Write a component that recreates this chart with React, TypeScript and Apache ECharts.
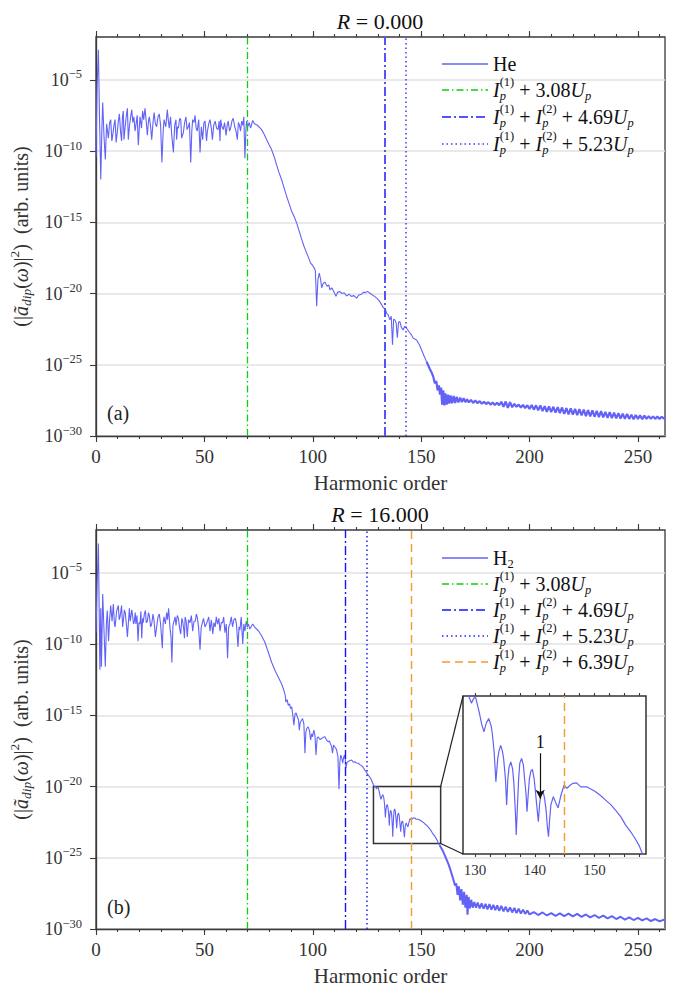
import React, { useEffect, useRef } from "react";
import * as echarts from "echarts";

type Pt = [number, number];

// ---------- axis constants ----------
const X_MAX = 262.5;
const X_MAJOR = [0, 50, 100, 150, 200, 250];
const X_MINOR = [0, 10, 20, 30, 40, 50, 60, 70, 80, 90, 100, 110, 120, 130, 140, 150, 160, 170, 180, 190, 200, 210, 220, 230, 240, 250, 260];
const Y_TICKS = [-30, -25, -20, -15, -10, -5];
const INSET_X: [number, number] = [128, 158.6];
const INSET_Y: [number, number] = [-24, -20];
const INSET_LABELS = [130, 140, 150];
const INSET_TICKS = [130, 132.5, 135, 137.5, 140, 142.5, 145, 147.5, 150, 152.5, 155, 157.5];
const ZOOM_BOX: [Pt, Pt] = [[128, -20], [159, -24]];
const TOP_CUTOFFS = [70, 133.3, 142.8];
const BOTTOM_CUTOFFS = [70, 115, 124.8, 145.3];
const COEFFS = ["3.08", "4.69", "5.23", "6.39"];
const ARROW: [Pt, Pt] = [[140.9, -21.45], [140.9, -22.6]];
const TITLES = ["0.000", "16.000"];

// ---------- data (log10 of spectrum) ----------
const TOP_PLATEAU: Pt[] = [
  [0, -10.4], [0.5, -5.5], [1.1, -2.9], [1.6, -7.5], [2.2, -12.0], [2.7, -8.5], [3.1, -6.6], [3.7, -9.0], [4.3, -10.6], [4.9, -8.1],
  [5.7, -9.1], [6.3, -8.0], [6.8, -7.8], [7.3, -9.3], [7.7, -8.9], [8.3, -8.2], [8.8, -7.8], [9.3, -9.4], [9.8, -8.7], [10.3, -7.9],
  [10.8, -7.4], [11.3, -8.6], [11.8, -9.3], [12.2, -7.6], [12.6, -7.2], [12.9, -9.2], [13.4, -8.4], [14.0, -7.5], [14.5, -7.0], [14.9, -9.2],
  [15.4, -8.3], [16.0, -7.6], [16.5, -7.1], [17.0, -8.0], [17.5, -7.6], [18.0, -8.6], [18.4, -8.2], [19.0, -7.5], [19.5, -9.6], [20.3, -7.6],
  [21.0, -8.4], [21.5, -7.2], [22.0, -7.8], [22.6, -7.0], [23.2, -8.0], [23.7, -8.9], [24.2, -7.9], [24.6, -7.6], [25.2, -8.3], [25.7, -9.2],
  [26.3, -8.0], [26.8, -7.3], [27.4, -8.1], [28.0, -8.3], [28.6, -7.6], [29.2, -7.4], [29.8, -8.2], [30.4, -10.8], [31.0, -8.6], [31.4, -7.8],
  [32.2, -8.3], [32.9, -7.1], [33.4, -7.9], [33.8, -8.4], [34.4, -7.6], [34.9, -8.8], [35.7, -10.1], [36.3, -8.2], [36.9, -7.8], [37.2, -9.2],
  [37.6, -8.3], [38.0, -8.4], [38.6, -7.7], [39.1, -7.8], [39.5, -9.1], [40.3, -8.7], [40.9, -8.0], [41.5, -7.6], [42.0, -8.5], [42.6, -8.3],
  [43.1, -8.0], [43.7, -10.8], [44.2, -8.6], [44.6, -7.8], [45.2, -8.0], [45.7, -7.5], [46.2, -8.4], [46.7, -8.6], [47.4, -7.8], [48.0, -10.1],
  [48.6, -8.3], [49.2, -9.2], [49.8, -8.0], [50.3, -7.9], [51.0, -9.3], [51.4, -8.6], [52.0, -8.1], [52.6, -7.8], [53.2, -8.4], [53.7, -9.2],
  [54.3, -8.2], [55.0, -7.9], [55.6, -8.4], [56.3, -8.5], [56.8, -7.9], [57.2, -9.3], [57.5, -7.8], [58.1, -8.3], [58.7, -8.5], [59.3, -8.0],
  [60.0, -8.9], [60.5, -8.2], [61.0, -7.9], [61.6, -8.6], [62.1, -8.4], [62.7, -7.9], [63.3, -7.7], [64.0, -8.3], [64.6, -8.6], [65.2, -9.2],
  [65.7, -8.0], [66.2, -8.2], [66.7, -8.6], [67.2, -7.9], [67.7, -8.2], [68.2, -7.6], [68.7, -10.5], [69.2, -8.4], [69.5, -7.9], [70.0, -8.3],
];
const TOP_DROP: Pt[] = [
  [70.7, -8.0], [71.3, -8.4], [72.3, -7.86], [73.2, -8.1], [74.1, -8.16], [75.2, -8.3], [76.4, -8.5], [77.5, -8.8], [78.7, -9.2], [79.8, -9.55],
  [81.0, -9.9], [82.2, -10.4], [83.3, -10.97], [84.4, -11.5], [85.6, -12.0], [86.8, -12.6], [88.0, -13.2], [89.2, -13.75], [90.3, -14.25], [91.4, -14.6],
  [92.6, -15.06], [93.7, -15.6], [94.9, -16.2], [96.0, -16.7], [97.2, -17.17], [98.1, -17.5], [99.0, -17.87], [99.8, -18.0], [100.6, -18.2], [101.2, -18.4],
  [101.8, -20.9], [102.4, -19.0], [103.0, -18.57], [103.6, -19.0], [104.1, -19.6], [104.8, -19.3], [105.6, -19.2], [106.6, -19.5], [107.4, -19.4], [107.9, -19.75],
  [108.8, -19.6], [109.8, -19.9], [110.7, -20.2], [111.5, -19.9], [112.5, -19.87], [113.5, -20.0], [114.5, -19.95], [115.6, -20.17], [116.7, -20.05], [117.8, -20.2],
  [119.0, -20.15], [120.2, -20.33], [121.3, -20.1], [122.5, -20.05], [123.4, -19.9], [124.1, -19.94], [125.2, -19.85], [126.4, -19.98], [127.5, -20.1], [128.5, -20.2],
  [129.5, -20.33], [130.6, -20.5], [131.8, -20.8], [132.6, -21.0], [133.5, -21.1], [134.1, -21.4], [134.8, -21.5], [135.6, -21.85], [136.2, -21.6], [136.8, -23.6],
  [137.3, -21.8], [137.9, -21.85], [138.5, -22.1], [139.0, -23.1], [139.6, -22.0], [140.2, -21.97], [140.9, -22.4], [141.7, -22.56], [142.4, -22.3], [143.3, -22.44],
  [144.5, -22.7], [145.5, -22.9], [146.4, -23.14], [147.9, -23.26], [149.2, -23.6], [150.2, -23.96], [151.4, -24.4], [152.5, -24.78],
];
const TOP_TAIL: Pt[] = [
  [152.5, -24.78], [154.0, -25.3], [155.0, -25.6], [155.6, -25.84], [156.3, -26.3], [157.0, -26.15], [157.6, -26.8], [158.2, -26.45], [158.7, -27.1], [159.2, -26.6], [159.7, -27.8],
  [160.2, -26.8], [160.7, -27.85], [161.2, -27.0], [161.8, -27.8], [162.4, -27.1], [163.0, -27.72], [163.6, -27.15], [164.3, -27.7], [165.0, -27.2], [165.7, -27.68],
  [166.4, -27.25], [167.2, -27.65], [168.0, -27.3], [168.8, -27.62], [169.6, -27.35], [170.4, -27.62], [171.2, -27.42], [172.0, -27.64], [173.0, -27.47], [174.0, -27.68],
  [175.0, -27.5], [176.0, -27.7], [177.0, -27.55], [178.0, -27.74], [179.0, -27.6], [180.0, -27.76], [181.0, -27.62], [182.0, -27.8], [183.0, -27.65], [184.0, -27.82],
  [185.0, -27.67], [186.0, -27.84], [187.0, -27.6], [188.0, -27.95], [189.0, -27.58], [190.0, -28.02], [191.0, -27.62], [192.0, -27.98], [193.0, -27.74], [194.0, -27.95],
  [195.0, -27.8], [196.0, -28.0], [197.0, -27.82], [198.0, -28.05], [199.0, -27.84], [200.0, -28.1], [201.0, -27.82], [202.0, -28.15], [203.0, -27.85], [204.0, -28.2],
  [205.0, -27.86], [206.0, -28.25], [207.0, -27.9], [208.0, -28.3], [209.0, -27.92], [210.0, -28.32], [211.0, -27.95], [212.0, -28.36], [213.0, -27.98], [214.0, -28.4],
  [215.0, -28.0], [216.0, -28.45], [217.0, -28.04], [218.0, -28.48], [219.0, -28.06], [220.0, -28.5], [221.0, -28.1], [222.0, -28.54], [223.0, -28.12], [224.0, -28.56],
  [225.0, -28.15], [226.0, -28.6], [227.0, -28.18], [228.0, -28.62], [229.0, -28.2], [230.0, -28.65], [231.0, -28.24], [232.0, -28.68], [233.0, -28.26], [234.0, -28.7],
  [235.0, -28.3], [236.0, -28.72], [237.0, -28.32], [238.0, -28.74], [239.0, -28.36], [240.0, -28.76], [241.0, -28.4], [242.0, -28.78], [243.0, -28.44], [244.0, -28.8],
  [245.0, -28.46], [246.0, -28.8], [247.0, -28.5], [248.0, -28.82], [249.0, -28.52], [250.0, -28.8], [251.0, -28.55], [252.0, -28.82], [253.0, -28.57], [254.0, -28.8],
  [255.0, -28.6], [256.0, -28.8], [257.0, -28.62], [258.0, -28.8], [259.0, -28.63], [260.0, -28.8], [261.0, -28.65], [262.0, -28.78], [262.5, -28.7],
];

const BOTTOM_PLATEAU: Pt[] = [
  [0, -9.2], [0.5, -6.0], [1.1, -2.95], [1.5, -8.0], [1.8, -11.8], [2.2, -7.5], [2.5, -11.6], [3.1, -6.5], [3.7, -9.1], [4.3, -11.6],
  [4.8, -8.6], [5.2, -7.65], [5.8, -9.8], [6.3, -8.2], [6.8, -7.3], [7.4, -8.4], [8.0, -7.2], [8.5, -8.6], [8.8, -8.8], [9.5, -7.7],
  [10.3, -7.3], [10.7, -8.3], [11.1, -8.1], [11.8, -7.3], [12.3, -8.8], [12.6, -8.4], [13.1, -7.6], [13.5, -7.8], [14.0, -8.6], [14.5, -9.5],
  [14.9, -8.6], [15.4, -7.5], [15.8, -8.4], [16.1, -8.1], [16.5, -7.6], [16.9, -8.0], [17.3, -8.6], [17.7, -8.4], [18.1, -7.8], [18.4, -8.6],
  [18.9, -8.0], [19.4, -9.8], [19.8, -8.5], [20.3, -8.6], [20.7, -7.7], [21.1, -9.6], [21.5, -8.2], [21.8, -8.5], [22.3, -7.9], [22.8, -7.65],
  [23.2, -8.5], [23.7, -8.4], [24.2, -7.8], [24.6, -8.0], [25.2, -8.8], [25.7, -8.6], [26.3, -7.9], [26.8, -8.4], [27.4, -9.5], [28.0, -8.8],
  [28.6, -8.1], [29.2, -7.9], [29.8, -8.6], [30.6, -10.3], [31.0, -8.5], [31.4, -8.1], [32.0, -8.6], [32.6, -7.8], [33.0, -8.3], [33.5, -7.5],
  [34.1, -8.8], [34.6, -9.5], [35.0, -11.3], [35.5, -8.7], [36.0, -8.4], [36.5, -8.1], [36.9, -8.7], [37.5, -8.0], [38.0, -8.2], [38.6, -8.9],
  [39.1, -9.3], [39.6, -8.2], [40.0, -8.4], [40.5, -9.0], [40.8, -9.6], [41.1, -8.1], [41.6, -8.4], [42.1, -9.5], [42.7, -8.3], [43.4, -8.5],
  [44.0, -8.0], [44.6, -9.1], [45.2, -8.4], [45.8, -8.4], [46.3, -7.9], [46.7, -8.1], [47.3, -8.8], [48.0, -10.4], [48.5, -8.9], [48.9, -8.6],
  [49.6, -8.2], [50.3, -8.8], [50.9, -8.6], [51.4, -8.4], [52.0, -8.1], [52.6, -9.1], [53.2, -8.3], [53.9, -9.3], [54.4, -8.5], [55.0, -8.8],
  [55.5, -8.1], [56.1, -8.6], [56.7, -8.2], [57.2, -9.1], [57.8, -8.5], [58.4, -8.5], [58.9, -8.1], [59.5, -9.2], [60.1, -8.6], [60.7, -11.0],
  [61.2, -8.8], [61.8, -8.6], [62.4, -8.1], [63.0, -8.8], [63.6, -8.3], [64.3, -8.2], [64.8, -8.6], [65.5, -10.2], [66.0, -8.8], [66.4, -9.0],
  [67.0, -8.1], [67.7, -10.0], [68.2, -8.6], [68.7, -9.1], [69.3, -8.4], [69.8, -8.8], [70.3, -8.6],
];
const BOTTOM_DROP: Pt[] = [
  [71.0, -8.95], [72.3, -8.6], [73.3, -8.84], [74.9, -9.07], [76.4, -9.42], [77.9, -9.88], [79.5, -10.58], [81.0, -11.28], [82.6, -11.86], [84.1, -12.33],
  [85.6, -12.79], [86.7, -13.26], [87.3, -13.6], [87.6, -14.07], [88.2, -13.9], [88.7, -14.3], [89.3, -14.2], [89.8, -14.53], [90.3, -14.4], [90.7, -14.88],
  [91.3, -15.7], [91.8, -14.9], [92.3, -14.84], [92.9, -15.12], [93.4, -15.3], [93.8, -16.05], [94.2, -15.5], [94.6, -15.4], [95.3, -15.23], [95.9, -15.6],
  [96.4, -17.67], [96.8, -16.2], [97.2, -15.93], [97.9, -15.81], [98.5, -16.1], [99.0, -16.74], [99.5, -16.3], [99.9, -16.51], [100.5, -16.05], [101.0, -16.4],
  [101.5, -17.79], [102.0, -16.6], [102.5, -16.51], [103.3, -16.7], [104.1, -16.63], [104.9, -16.55], [105.6, -16.51], [106.4, -16.75], [107.2, -16.86], [107.7, -16.8],
  [108.2, -17.02], [108.7, -17.2], [109.1, -17.67], [109.6, -17.1], [110.1, -17.21], [110.6, -17.3], [111.0, -17.44], [111.6, -17.9], [112.1, -20.19], [112.5, -18.3],
  [112.9, -17.79], [113.4, -18.0], [113.8, -18.37], [114.2, -18.0], [114.6, -17.79], [115.0, -18.1], [115.3, -18.72], [115.8, -18.3], [116.2, -18.26], [117.0, -18.2],
  [118.0, -18.14], [118.7, -18.3], [119.4, -18.26], [120.2, -18.35], [121.0, -18.37], [122.0, -18.5], [123.0, -18.6], [123.8, -18.8], [124.5, -18.95], [125.6, -19.2],
  [126.7, -19.42], [127.5, -19.7],
];
const INSET_SEGMENT: Pt[] = [
  [128.0, -19.9], [128.5, -19.98], [129.0, -20.02], [129.4, -20.18], [129.8, -20.06], [130.1, -20.03], [130.7, -20.4], [131.1, -20.7], [131.5, -20.91], [131.9, -20.68],
  [132.3, -20.57], [132.7, -20.75], [132.9, -20.95], [133.2, -21.4], [133.5, -22.17], [133.8, -21.6], [134.0, -21.4], [134.3, -21.25], [134.6, -21.4], [134.8, -21.6],
  [135.1, -22.1], [135.3, -22.76], [135.5, -22.1], [135.7, -21.8], [136.0, -21.67], [136.3, -21.85], [136.5, -22.2], [136.75, -22.9], [136.9, -23.52], [137.1, -22.8],
  [137.3, -22.1], [137.5, -21.7], [137.8, -21.58], [138.1, -21.75], [138.3, -22.1], [138.55, -22.5], [138.7, -22.93], [138.9, -22.5], [139.1, -22.1], [139.35, -21.9],
  [139.6, -21.86], [139.9, -22.1], [140.1, -22.4], [140.35, -22.8], [140.6, -23.18], [140.8, -22.75], [141.0, -22.5], [141.4, -22.42], [141.65, -22.6], [141.9, -22.9],
  [142.1, -23.3], [142.3, -23.56], [142.5, -23.1], [142.7, -22.75], [143.1, -22.55], [143.5, -22.7], [143.9, -22.83], [144.4, -22.5], [144.9, -22.26], [145.4, -22.34],
  [145.9, -22.26], [146.4, -22.21], [147.0, -22.2], [147.7, -22.3], [148.7, -22.3], [150.1, -22.42], [151.0, -22.52], [151.8, -22.63], [152.7, -22.75], [153.5, -22.89],
  [154.4, -23.06], [155.2, -23.27], [156.1, -23.45], [156.9, -23.64], [157.5, -23.8], [158.0, -24.0], [158.5, -24.12],
];
const BOTTOM_TAIL: Pt[] = [
  [158.5, -24.12], [159.0, -24.25], [159.8, -24.45], [160.8, -24.8], [161.8, -25.15], [162.6, -25.45], [163.4, -25.8], [164.2, -26.2], [164.9, -26.55], [165.6, -26.95], [166.2, -26.8],
  [166.8, -27.6], [167.4, -27.0], [168.0, -28.0], [168.6, -27.2], [169.2, -28.3], [169.8, -27.4], [170.4, -28.5], [171.0, -27.6], [171.4, -29.0], [171.9, -27.75],
  [172.5, -28.55], [173.1, -27.95], [173.8, -28.5], [174.5, -28.1], [175.3, -28.5], [176.1, -28.15], [177.0, -28.55], [177.9, -28.2], [178.8, -28.58], [179.7, -28.24],
  [180.6, -28.62], [181.5, -28.26], [182.4, -28.64], [183.3, -28.3], [184.2, -28.68], [185.1, -28.34], [186.0, -28.72], [187.0, -28.38], [188.0, -28.76], [189.0, -28.44],
  [190.0, -28.8], [191.0, -28.48], [192.0, -28.84], [193.0, -28.52], [194.0, -28.88], [195.0, -28.58], [196.0, -28.92], [197.0, -28.64], [198.0, -28.94], [199.0, -28.7],
  [200.0, -28.98], [202.0, -28.82], [204.0, -29.02], [206.0, -28.84], [208.0, -29.05], [210.0, -28.88], [212.0, -29.08], [214.0, -28.9], [216.0, -29.1], [218.0, -28.92],
  [220.0, -29.12], [222.0, -28.94], [224.0, -29.15], [226.0, -28.98], [228.0, -29.18], [230.0, -29.02], [232.0, -29.22], [234.0, -29.06], [236.0, -29.26], [238.0, -29.1],
  [240.0, -29.3], [242.0, -29.14], [244.0, -29.34], [246.0, -29.18], [248.0, -29.37], [250.0, -29.22], [252.0, -29.4], [254.0, -29.26], [256.0, -29.44], [258.0, -29.3],
  [260.0, -29.47], [262.0, -29.34], [262.5, -29.42],
];

const TOP_MAIN: Pt[] = [...TOP_PLATEAU, ...TOP_DROP];
const BOTTOM_MAIN: Pt[] = [...BOTTOM_PLATEAU, ...BOTTOM_DROP, ...INSET_SEGMENT];

// ---------- styles ----------
const FONT = "Liberation Serif";
const FRAME = "#3a3a3a";
const TXT = "#333";
const GRID_C = "#e2e2e2";
const DATA_C = "#6262f7";
const STY = {
  green: { color: "#10cc10", width: 1.3, type: [7, 3, 1.5, 3] },
  blueTop: { color: "#5252ff", width: 2, type: [9, 3, 2, 3] },
  dotTop: { color: "#3c3cff", width: 1.5, type: [1.5, 3] },
  blueBot: { color: "#1414ff", width: 1.4, type: [9, 3, 2, 3] },
  dotBot: { color: "#2020ff", width: 1.5, type: [1.5, 3] },
  orange: { color: "#f39a2c", width: 1.4, type: [8, 5] },
};

const G_TOP = { left: 96, top: 37, width: 569, height: 399 };
const G_BOT = { left: 96, top: 530, width: 569, height: 399 };
const G_INS = { left: 463, top: 696, width: 183, height: 158 };

type Tok = { t: string; it?: boolean; pos?: "sub" | "sup"; stack?: boolean };

let _ctx: CanvasRenderingContext2D | null = null;
function fontStr(size: number, it?: boolean) {
  return `${it ? "italic " : ""}${size}px ${FONT}`;
}
function tw(t: string, size: number, it?: boolean) {
  if (!_ctx) _ctx = document.createElement("canvas").getContext("2d");
  _ctx!.font = fontStr(size, it);
  return _ctx!.measureText(t).width;
}

function mathText(toks: Tok[], x: number, y: number, base: number, script: number, align: "left" | "center", color: string) {
  const sizeOf = (k: Tok) => (k.pos ? script : base);
  let w = 0;
  let pend = 0;
  toks.forEach((k) => {
    const kw = tw(k.t, sizeOf(k), k.it);
    if (k.stack) { pend = kw; return; }
    w += Math.max(kw, pend);
    pend = 0;
  });
  let cx = align === "center" ? x - w / 2 : x;
  pend = 0;
  const els: any[] = [];
  toks.forEach((k) => {
    const size = sizeOf(k);
    const kw = tw(k.t, size, k.it);
    const dy = k.pos === "sub" ? 0.29 * base : k.pos === "sup" ? -0.38 * base : 0;
    els.push({
      type: "text", x: cx, y: y + dy, z: 20, silent: true,
      style: {
        text: k.t, fontSize: size, fontFamily: FONT, fontStyle: k.it ? "italic" : "normal",
        font: fontStr(size, k.it), fill: color,
        textAlign: "left", textVerticalAlign: "middle", align: "left", verticalAlign: "middle",
      },
    });
    if (k.stack) { pend = kw; return; }
    cx += Math.max(kw, pend);
    pend = 0;
  });
  return els;
}

const ip = (n: number): Tok[] => [{ t: "I", it: true }, { t: "p", it: true, pos: "sub", stack: true }, { t: `(${n})`, pos: "sup" }];
const up: Tok[] = [{ t: "U", it: true }, { t: "p", it: true, pos: "sub" }];
const plus: Tok = { t: " + " };
const oneIon = (c: string): Tok[] => [...ip(1), plus, { t: c }, ...up];
const twoIon = (c: string): Tok[] => [...ip(1), plus, ...ip(2), plus, { t: c }, ...up];

function lineEl(x1: number, y1: number, x2: number, y2: number, s: any) {
  return {
    type: "line", z: 20, silent: true,
    shape: { x1, y1, x2, y2 },
    style: { stroke: s.color, lineWidth: s.width, lineDash: Array.isArray(s.type) ? s.type : null },
  };
}

function legend(rows: { toks: Tok[]; s: any }[], ys: number[]) {
  const els: any[] = [];
  rows.forEach((r, i) => {
    els.push(lineEl(442, ys[i], 488, ys[i], r.s));
    els.push(...mathText(r.toks, 493, ys[i], 20, 12.5, "left", "#111"));
  });
  return els;
}

function mainX(g: number) {
  const ls = { color: FRAME, width: 1.1 };
  return [
    {
      gridIndex: g, type: "value", position: "bottom", min: 0, max: X_MAX, interval: 50,
      axisLine: { show: true, onZero: false, lineStyle: { color: FRAME, width: 1.3 } },
      axisTick: { show: true, customValues: X_MINOR, length: 3, lineStyle: ls },
      axisLabel: { show: true, customValues: X_MAJOR, margin: 11, fontSize: 19, fontFamily: FONT, color: TXT },
      splitLine: { show: false },
      name: "Harmonic order", nameLocation: "middle", nameGap: 36,
      nameTextStyle: { fontSize: 21, fontFamily: FONT, color: TXT },
    },
    {
      gridIndex: g, type: "value", position: "bottom", min: 0, max: X_MAX, interval: 50,
      axisLine: { show: false }, axisTick: { show: true, customValues: X_MAJOR, length: 6, lineStyle: ls },
      axisLabel: { show: false }, splitLine: { show: false },
    },
    {
      gridIndex: g, type: "value", position: "top", min: 0, max: X_MAX, interval: 50,
      axisLine: { show: false }, axisTick: { show: true, customValues: X_MINOR, length: 3, lineStyle: ls },
      axisLabel: { show: false }, splitLine: { show: false },
    },
    {
      gridIndex: g, type: "value", position: "top", min: 0, max: X_MAX, interval: 50,
      axisLine: { show: false }, axisTick: { show: true, customValues: X_MAJOR, length: 6, lineStyle: ls },
      axisLabel: { show: false }, splitLine: { show: false },
    },
  ];
}

const Y_NAME = "(|{i|ã}{sub|dip}({i|ω})|{sup|2})  (arb. units)";

function mainY(g: number) {
  return {
    gridIndex: g, type: "value", position: "left", min: -30, max: -2, interval: 5,
    axisLine: { show: true, onZero: false, lineStyle: { color: FRAME, width: 1.3 } },
    axisTick: { show: true, customValues: Y_TICKS, length: 6, lineStyle: { color: FRAME, width: 1.1 } },
    axisLabel: {
      show: true, customValues: Y_TICKS, margin: 14, fontFamily: FONT,
      formatter: (v: number) => `{b|10}{s|−${Math.abs(v)}}`,
      rich: {
        b: { fontSize: 18, fontFamily: FONT, color: TXT, lineHeight: 24 },
        s: { fontSize: 12.5, fontFamily: FONT, color: TXT, verticalAlign: "top" },
      },
    },
    splitLine: { show: true, lineStyle: { color: GRID_C, width: 1.5 } },
    name: Y_NAME, nameLocation: "middle", nameRotate: 90, nameGap: 60,
    nameTextStyle: {
      fontSize: 20, fontFamily: FONT, color: TXT, lineHeight: 26,
      rich: {
        i: { fontSize: 20, fontFamily: FONT, fontStyle: "italic", color: TXT, lineHeight: 26 },
        sub: { fontSize: 13.5, fontFamily: FONT, fontStyle: "italic", color: TXT, verticalAlign: "bottom" },
        sup: { fontSize: 13.5, fontFamily: FONT, color: TXT, verticalAlign: "top" },
      },
    },
  };
}

function vlines(vals: number[], styles: any[]) {
  return {
    symbol: ["none", "none"], silent: true, label: { show: false },
    data: vals.map((v, i) => ({ xAxis: v, lineStyle: styles[i] })),
  };
}

function lineSeries(xi: number, yi: number, data: Pt[], width: number, z: number, extra: any = {}) {
  return {
    type: "line", xAxisIndex: xi, yAxisIndex: yi, data, showSymbol: false, symbol: "none",
    lineStyle: { color: DATA_C, width }, clip: true, z, ...extra,
  };
}

function buildOption() {
  const insTickStyle = { color: FRAME, width: 1.1 };
  return {
    animation: false,
    backgroundColor: "#fff",
    textStyle: { fontFamily: FONT },
    grid: [
      { ...G_TOP, show: true, borderColor: FRAME, borderWidth: 1.3, outerBoundsMode: "none", containLabel: false },
      { ...G_BOT, show: true, borderColor: FRAME, borderWidth: 1.3, outerBoundsMode: "none", containLabel: false },
      { ...G_INS, show: false, outerBoundsMode: "none", containLabel: false },
    ],
    xAxis: [
      ...mainX(0),
      ...mainX(1),
      {
        gridIndex: 2, type: "value", position: "bottom", min: INSET_X[0], max: INSET_X[1], z: 10,
        axisLine: { show: false },
        axisTick: { show: true, customValues: INSET_TICKS, length: 3, lineStyle: insTickStyle },
        axisLabel: { show: true, customValues: INSET_LABELS, margin: 8, fontSize: 15, fontFamily: FONT, color: TXT },
        splitLine: { show: false },
      },
      {
        gridIndex: 2, type: "value", position: "top", min: INSET_X[0], max: INSET_X[1], z: 10,
        axisLine: { show: false },
        axisTick: { show: true, customValues: INSET_TICKS, length: 3, lineStyle: insTickStyle },
        axisLabel: { show: false }, splitLine: { show: false },
      },
    ],
    yAxis: [
      mainY(0),
      mainY(1),
      { gridIndex: 2, type: "value", min: INSET_Y[0], max: INSET_Y[1], show: false, splitLine: { show: false } },
    ],
    series: [
      lineSeries(0, 0, TOP_MAIN, 1.1, 2, { markLine: vlines(TOP_CUTOFFS, [STY.green, STY.blueTop, STY.dotTop]) }),
      lineSeries(0, 0, TOP_TAIL, 2.2, 2),
      lineSeries(4, 1, BOTTOM_MAIN, 1.1, 2, {
        markLine: vlines(BOTTOM_CUTOFFS, [STY.green, STY.blueBot, STY.dotBot, STY.orange]),
        markArea: {
          silent: true,
          itemStyle: { color: "rgba(0,0,0,0)", borderColor: "#333", borderWidth: 1.5 },
          data: [[{ coord: ZOOM_BOX[0] }, { coord: ZOOM_BOX[1] }]],
        },
      }),
      lineSeries(4, 1, BOTTOM_TAIL, 2.0, 2),
      lineSeries(8, 2, [...BOTTOM_DROP, ...INSET_SEGMENT, ...BOTTOM_TAIL], 1.2, 10, {
        markLine: {
          symbol: ["none", "none"], silent: true, z: 11,
          data: [
            { xAxis: 145, lineStyle: STY.orange, label: { show: false } },
            [
              {
                coord: ARROW[0], symbol: "none",
                lineStyle: { color: "#111", width: 1.2, type: "solid" },
                label: { show: true, formatter: "1", position: "start", distance: 2, fontSize: 18, fontFamily: FONT, color: "#111" },
              },
              { coord: ARROW[1], symbol: "arrow", symbolSize: [7, 9] },
            ],
          ],
        },
      }),
    ],
  };
}

function staticGraphics() {
  const els: any[] = [];
  els.push(...mathText([{ t: "R", it: true }, { t: " = " + TITLES[0] }], 380, 21, 22, 15, "center", "#111"));
  els.push(...mathText([{ t: "R", it: true }, { t: " = " + TITLES[1] }], 380, 514, 22, 15, "center", "#111"));
  els.push(...mathText([{ t: "(a)" }], 107, 413, 20, 14, "left", "#222"));
  els.push(...mathText([{ t: "(b)" }], 107, 907, 20, 14, "left", "#222"));
  const dataS = { color: DATA_C, width: 1.5, type: "solid" };
  els.push(...legend([
    { toks: [{ t: "He" }], s: dataS },
    { toks: oneIon(COEFFS[0]), s: STY.green },
    { toks: twoIon(COEFFS[1]), s: STY.blueTop },
    { toks: twoIon(COEFFS[2]), s: STY.dotTop },
  ], [64, 90, 117, 144]));
  els.push(...legend([
    { toks: [{ t: "H" }, { t: "2", pos: "sub" }], s: dataS },
    { toks: oneIon(COEFFS[0]), s: STY.green },
    { toks: twoIon(COEFFS[1]), s: STY.blueBot },
    { toks: twoIon(COEFFS[2]), s: STY.dotBot },
    { toks: twoIon(COEFFS[3]), s: STY.orange },
  ], [558, 584, 610, 636, 662]));
  els.push({
    type: "rect", z: 3, silent: true,
    shape: { x: G_INS.left, y: G_INS.top, width: G_INS.width, height: G_INS.height },
    style: { fill: "#fff", stroke: "#333", lineWidth: 1.5 },
  });
  return els;
}

export default function App() {
  const ref = useRef<HTMLDivElement>(null);
  useEffect(() => {
    const el = ref.current!;
    const chart = echarts.init(el, null, { renderer: "svg" });
    chart.setOption(buildOption() as any);
    const p1 = chart.convertToPixel({ xAxisIndex: 4, yAxisIndex: 1 } as any, [ZOOM_BOX[1][0], ZOOM_BOX[0][1]]) as number[];
    const p2 = chart.convertToPixel({ xAxisIndex: 4, yAxisIndex: 1 } as any, [ZOOM_BOX[1][0], ZOOM_BOX[1][1]]) as number[];
    const q1 = chart.convertToPixel({ xAxisIndex: 8, yAxisIndex: 2 } as any, [INSET_X[0], INSET_Y[1]]) as number[];
    const q2 = chart.convertToPixel({ xAxisIndex: 8, yAxisIndex: 2 } as any, [INSET_X[0], INSET_Y[0]]) as number[];
    const conn = { color: "#222", width: 1.2, type: "solid" };
    const els = staticGraphics();
    if (p1 && q1) els.push({ ...lineEl(p1[0], p1[1], q1[0], q1[1], conn), z: 4 });
    if (p2 && q2) els.push({ ...lineEl(p2[0], p2[1], q2[0], q2[1], conn), z: 4 });
    chart.setOption({ graphic: [{ elements: els }] } as any);
    return () => chart.dispose();
  }, []);
  return (
    <div
      ref={ref}
      style={{ position: "absolute", left: 0, top: 0, width: 678, height: 988, background: "#fff" }}
    />
  );
}
